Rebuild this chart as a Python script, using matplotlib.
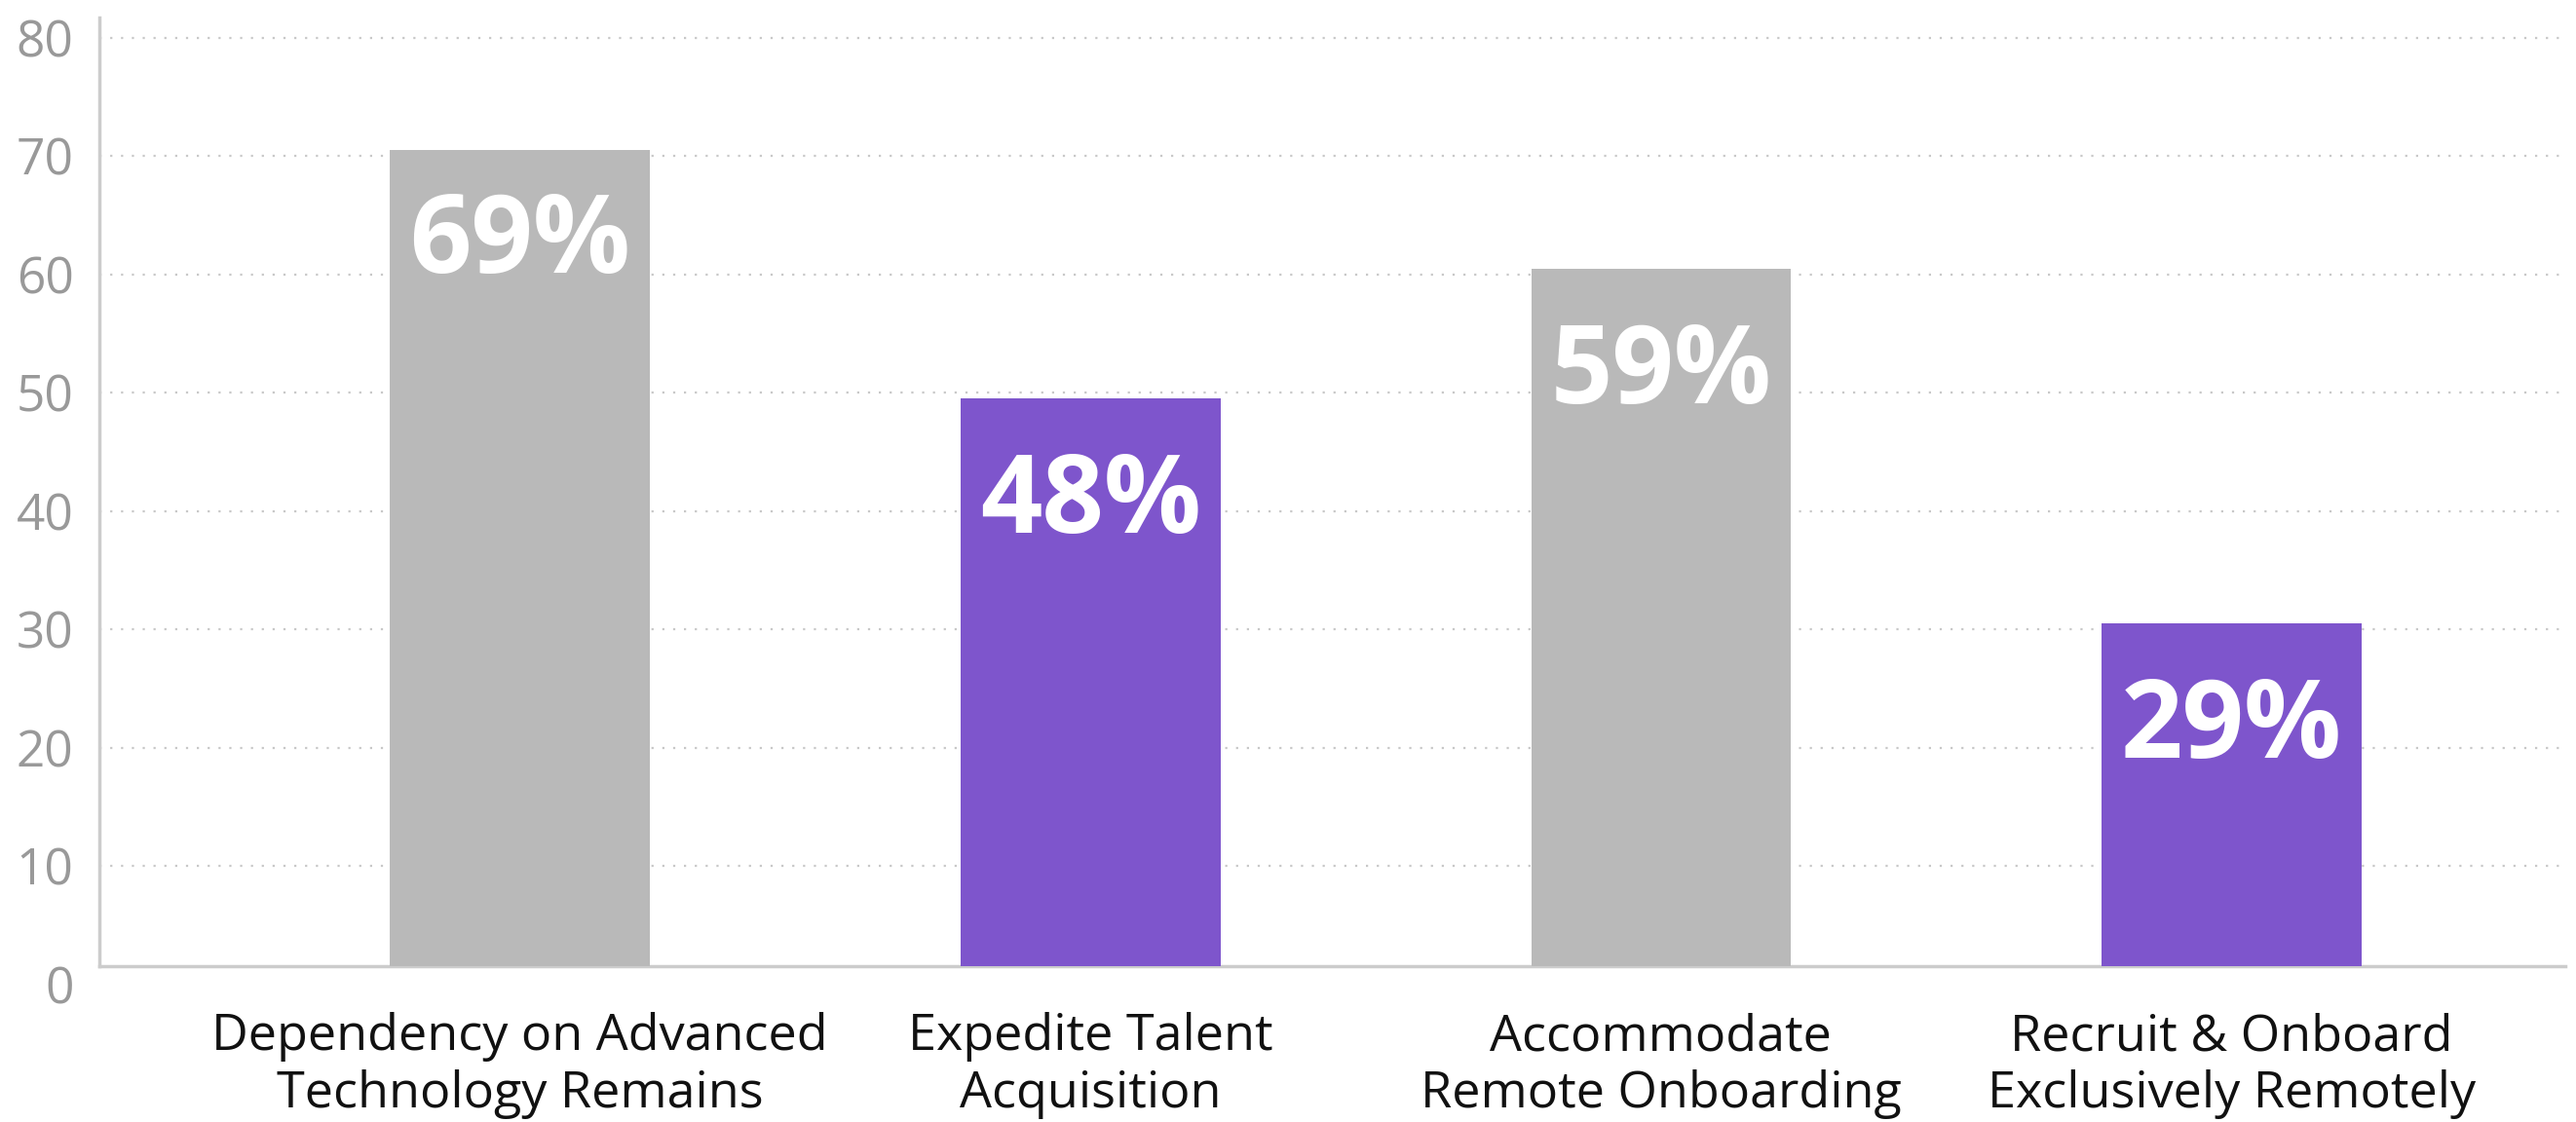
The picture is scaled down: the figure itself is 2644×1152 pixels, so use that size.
import matplotlib
matplotlib.use('Agg')
import matplotlib.pyplot as plt
import numpy as np

categories = ['Dependency on Advanced\nTechnology Remains',
              'Expedite Talent\nAcquisition',
              'Accommodate\nRemote Onboarding',
              'Recruit & Onboard\nExclusively Remotely']
values = [69, 48, 59, 29]
labels = ['69%', '48%', '59%', '29%']
colors = ['#b9b9b9', '#7e55cc', '#b9b9b9', '#7e55cc']
y_ticks = [0, 10, 20, 30, 40, 50, 60, 70, 80]

plt.rcParams['font.family'] = ['Open Sans', 'DejaVu Sans']

fig = plt.figure(figsize=(26.44, 11.52), dpi=100)
ax = fig.add_axes([0.0386, 0.1228, 0.9573, 0.8615])

# the value axis in the original sits ~1.5 units below the category axis
shift = 1.52
x = np.arange(len(values))
ax.bar(x, values, width=0.455, color=colors, zorder=3)

for xi, v, lab in zip(x, values, labels):
    # tallest bar's label sits a little closer to its top in the original
    off = 8.0 if v == max(values) else 9.0
    ax.text(xi, v - off, lab, ha='center', va='center', color='white',
            fontsize=80, fontweight='bold', zorder=4)

tick_pos = [t - shift for t in y_ticks]
ax.set_yticks(tick_pos)
ax.set_yticklabels([str(t) for t in y_ticks])
for tp in tick_pos[1:]:
    ax.axhline(tp, color='#c8c8c8', linestyle=(0, (1, 4)), linewidth=1.6, zorder=1)

ax.set_ylim(-shift, 80.2)
ax.set_xlim(-0.737, 3.585)
ax.set_xticks(x)
ax.set_xticklabels(categories, linespacing=1.05)

for s in ['top', 'right']:
    ax.spines[s].set_visible(False)
ax.spines['bottom'].set_position(('data', 0))
ax.spines['left'].set_bounds(0, 80.2)
for s in ['bottom', 'left']:
    ax.spines[s].set_color('#cccccc')
    ax.spines[s].set_linewidth(2.5)

ax.tick_params(axis='y', length=0, pad=19, labelsize=37, labelcolor='#999999')
ax.tick_params(axis='x', length=0, pad=34, labelsize=37.5, labelcolor='#111111')

fig.savefig('out.png', dpi=100)
